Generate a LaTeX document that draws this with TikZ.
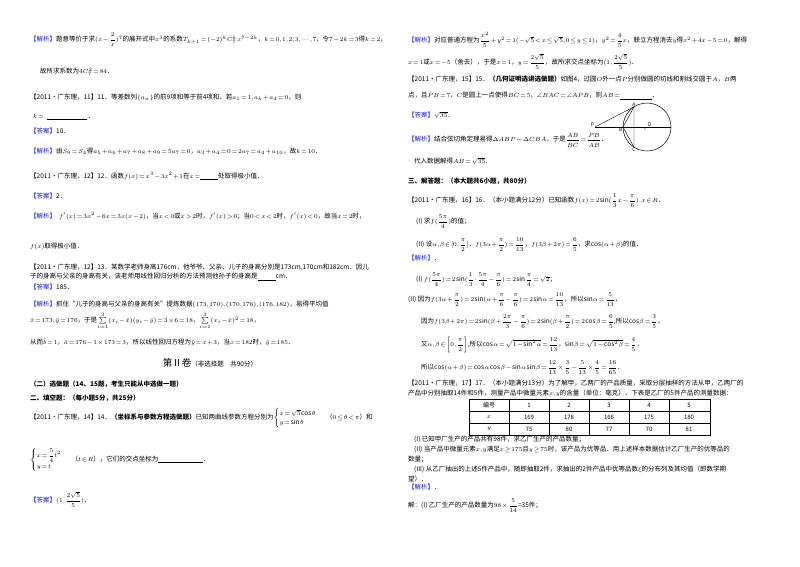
\documentclass[tikz,border=0pt]{standalone}
\usepackage{amsmath,amssymb}
\usepackage{fontspec}
\setmainfont{Noto Sans CJK SC}
\definecolor{jblue}{RGB}{30,30,210}
\newcommand\jx{\textcolor{jblue}{【解析】}}
\newcommand\da{\textcolor{jblue}{【答案】}}
\newcommand\bl[1]{\underline{\hspace{#1}}}
\thinmuskip=1mu \medmuskip=1.5mu \thickmuskip=2mu
\begin{document}
\begin{tikzpicture}[x=1pt,y=-1pt,
  t/.style={anchor=west,inner sep=0,font=\fontsize{6.5}{7.5}\selectfont},
  tb/.style={t,font=\fontsize{6.5}{7.5}\selectfont\bfseries}]
\useasboundingbox (0,0) rectangle (800,566);
% left column
\node[t] (l1) at (30,40) {\jx 题意等价于求$(x-\dfrac{2}{x})^7$的展开式中$x^3$的系数$T_{k+1}=(-2)^kC_7^kx^{7-2k}$，$k=0,1,2,3,\cdots,7$，令$7-2k=3$得$k=2$，};
\node[t] (l2) at (40,72) {故所求系数为$4C_7^2=84$．};
\node[t] (l3) at (30,97) {【2011·广东理，11】11．等差数列$\{a_n\}$的前9项和等于前4项和．若$a_1=1,a_k+a_4=0$，则};
\node[t] (l4) at (33,117) {$k=$\ \ \bl{40pt}\ ．};
\node[t] (l5) at (30,131) {\da 10．};
\node[t] (l6) at (30,151) {\jx 由$S_9=S_4$得$a_5+a_6+a_7+a_8+a_9=5a_7=0$，$a_3+a_4=0=2a_7=a_4+a_{10}$，故$k=10$．};
\node[t] (l7) at (30,176) {【2011·广东理，12】12．函数$f(x)=x^3-3x^2+1$在$x=$\bl{18pt}处取得极小值．};
\node[t] (l8) at (30,196) {\da 2．};
\node[t] (l9) at (30,216) {\jx\ \ $f'(x)=3x^2-6x=3x(x-2)$，当$x<0$或$x>2$时，$f'(x)>0$；当$0<x<2$时，$f'(x)<0$，故当$x=2$时，};
\node[t] (l10) at (30,247) {$f(x)$取得极小值．};
\node[t] (l11) at (30,267) {【2011·广东理，12】13．某数学老师身高176cm，他爷爷、父亲、儿子的身高分别是173cm,170cm和182cm．因儿};
\node[t] (l12) at (30,277) {子的身高与父亲的身高有关，该老师用线性回归分析的方法预测他孙子的身高是\bl{18pt}cm．};
\node[t] (l13) at (30,287) {\da 185．};
\node[t] (l14) at (30,304) {\jx 抓住“儿子的身高与父亲的身高有关”提炼数据$(173,170),(170,176),(176,182)$，易得平均值};
\node[t] (l15) at (30,321) {$\bar x=173,\bar y=176$，于是$\sum\limits_{i=1}^{3}(x_i-\bar x)(y_i-\bar y)=3\times6=18$，$\sum\limits_{i=1}^{3}(x_i-\bar x)^2=18$，};
\node[t] (l16) at (30,342) {从而$\hat b=1$，$\hat a=176-1\times173=3$，所以线性回归方程为$\hat y=x+3$，当$x=182$时，$\hat y=185$．};
\node[inner sep=0,font=\fontsize{6.5}{8}\selectfont] (l17) at (210,363) {{\fontsize{9.5}{10}\selectfont 第Ⅱ卷}（非选择题\quad 共90分）};
\node[tb] (l18) at (30,384) {（二）选做题（14、15题，考生只能从中选做一题）};
\node[tb] (l19) at (30,398) {二、填空题：（每小题5分，共25分）};
\node[t] (l20) at (30,418) {【2011·广东理，14】14．\textbf{（坐标系与参数方程选做题）}已知两曲线参数方程分别为$\begin{cases}x=\sqrt5\cos\theta\\ y=\sin\theta\end{cases}$\ \ （$0\leq\theta<\pi$）和};
\node[t] (l21) at (30,460) {$\begin{cases}x=\dfrac54t^2\\ y=t\end{cases}$\ \ （$t\in R$），它们的交点坐标为\bl{45pt}．};
\node[t] (l22) at (30,500) {\da$(1,\dfrac{2\sqrt5}{5})$．};
% right column
\node[t] (r1) at (408,40) {\jx 对应普通方程为$\dfrac{x^2}{5}+y^2=1(-\sqrt5<x\le\sqrt5,0\le y\le1)$，$y^2=\dfrac45x$，联立方程消去$y$得$x^2+4x-5=0$，解得};
\node[t] (r2) at (408,62) {$x=1$或$x=-5$（舍去），于是$x=1$，$y=\dfrac{2\sqrt5}{5}$，故所求交点坐标为$(1,\dfrac{2\sqrt5}{5})$．};
\node[t] (r3) at (408,79) {【2011·广东理，15】15．\textbf{（几何证明选讲选做题）}如图4，过圆$O$外一点$P$分别做圆的切线和割线交圆于$A$，$B$两};
\node[t] (r4) at (408,96) {点，且$PB=7$，$C$是圆上一点使得$BC=5$，$\angle BAC=\angle APB$，则$AB=$\bl{32pt}．};
\node[t] (r5) at (408,115) {\da$\sqrt{35}$．};
\node[t] (r6) at (408,140) {\jx 结合弦切角定理易得$\Delta ABP\sim\Delta CBA$，于是$\dfrac{AB}{BC}=\dfrac{PB}{AB}$．};
\node[t] (r7) at (414,161) {代入数据解得$AB=\sqrt{35}$．};
\node[tb] (r8) at (408,181) {三、解答题：（本大题共6小题，共80分）};
\node[t] (r9) at (408,201) {【2011·广东理，16】16．（本小题满分12分）已知函数$f(x)=2\sin(\dfrac13x-\dfrac\pi6),x\in R$．};
\node[t] (r10) at (416,222) {(I) 求$f(\dfrac{5\pi}{4})$的值；};
\node[t] (r11) at (416,245) {(II) 设$\alpha,\beta\in[0,\dfrac\pi2]$，$f(3\alpha+\dfrac\pi2)=\dfrac{10}{13}$，$f(3\beta+2\pi)=\dfrac65$，求$\cos(\alpha+\beta)$的值．};
\node[t] (r12) at (408,258) {\jx ．};
\node[t] (r13) at (416,280) {(I) $f(\dfrac{5\pi}{4})=2\sin(\dfrac13\cdot\dfrac{5\pi}4-\dfrac\pi6)=2\sin\dfrac\pi4=\sqrt2$；};
\node[t] (r14) at (408,300) {(II) 因为$f(3\alpha+\dfrac\pi2)=2\sin(\alpha+\dfrac\pi6-\dfrac\pi6)=2\sin\alpha=\dfrac{10}{13}$，所以$\sin\alpha=\dfrac5{13}$，};
\node[t] (r15) at (421,322) {因为$f(3\beta+2\pi)=2\sin(\beta+\dfrac{2\pi}3-\dfrac\pi6)=2\sin(\beta+\dfrac\pi2)=2\cos\beta=\dfrac65$,所以$\cos\beta=\dfrac35$，};
\node[t] (r16) at (421,345) {又$\alpha,\beta\in\left[0,\dfrac\pi2\right]$,所以$\cos\alpha=\sqrt{1-\sin^2\alpha}=\dfrac{12}{13}$，$\sin\beta=\sqrt{1-\cos^2\beta}=\dfrac45$，};
\node[t] (r17) at (421,368) {所以$\cos(\alpha+\beta)=\cos\alpha\cos\beta-\sin\alpha\sin\beta=\dfrac{12}{13}\times\dfrac35-\dfrac5{13}\times\dfrac45=\dfrac{16}{65}$．};
\node[t] (r18) at (408,383) {【2011·广东理，17】17．（本小题满分13分）为了解甲，乙两厂的产品质量，采取分层抽样的方法从甲，乙两厂的};
\node[t] (r19) at (408,393) {产品中分别抽取14件和5件，测量产品中微量元素$x,y$的含量（单位：毫克）．下表是乙厂的5件产品的测量数据：};
% table
\draw[line width=0.8pt] (469,399) rectangle (710,435);
\foreach \yy in {411,423} \draw[line width=0.5pt] (469,\yy) -- (710,\yy);
\foreach \xx in {509,549,589,629,669} \draw[line width=0.5pt] (\xx,399) -- (\xx,435);
\foreach \ca/\cb/\cc [count=\i] in {编号/$x$/$y$,1/169/75,2/178/80,3/166/77,4/175/70,5/180/81}{
  \node[inner sep=0,font=\fontsize{6}{7}\selectfont] (c\i a) at (449+40*\i,405) {\ca};
  \node[inner sep=0,font=\fontsize{6}{7}\selectfont] (c\i b) at (449+40*\i,417) {\cb};
  \node[inner sep=0,font=\fontsize{6}{7}\selectfont] (c\i c) at (449+40*\i,429) {\cc};}
\node[t] (r20) at (414,439) {(I) 已知甲厂生产的产品共有98件，求乙厂生产的产品数量；};
\node[t] (r21) at (414,449) {(II) 当产品中微量元素$x,y$满足$x\geq175$且$y\geq75$时，该产品为优等品．用上述样本数据估计乙厂生产的优等品的};
\node[t] (r22) at (408,459) {数量；};
\node[t] (r23) at (414,469) {(III) 从乙厂抽出的上述5件产品中，随即抽取2件，求抽出的2件产品中优等品数$\xi$的分布列及其均值（即数学期};
\node[t] (r24) at (408,479) {望）．};
\node[t] (r25) at (408,487) {\jx ．};
\node[t] (r26) at (408,506) {解：(I) 乙厂生产的产品数量为$98\times\dfrac5{14}$=35件；};
% figure
\node[inner sep=0] (O) at (647,127) {};
\draw[line width=0.5pt] (O) circle (24);
\coordinate (A) at (634,106.8);
\coordinate (P) at (595,127);
\coordinate (B) at (623,127);
\coordinate (C) at (634,147.2);
\coordinate (D) at (671,127);
\draw[line width=0.4pt] (P) -- (A) -- (C);
\draw[line width=0.4pt] (P) -- (D);
\draw[line width=0.4pt] (A) -- (B) -- (C);
\fill (O) ++(-2,2) circle (0.6);
\foreach \p/\q in {A/above,P/above left,B/below left,C/below}
  \node[inner sep=0.5pt,font=\fontsize{5}{6}\selectfont\itshape,\q] at (\p) {\p};
\node[inner sep=0.5pt,font=\fontsize{5}{6}\selectfont\itshape,above right] at (O) {O};
\end{tikzpicture}
\end{document}
